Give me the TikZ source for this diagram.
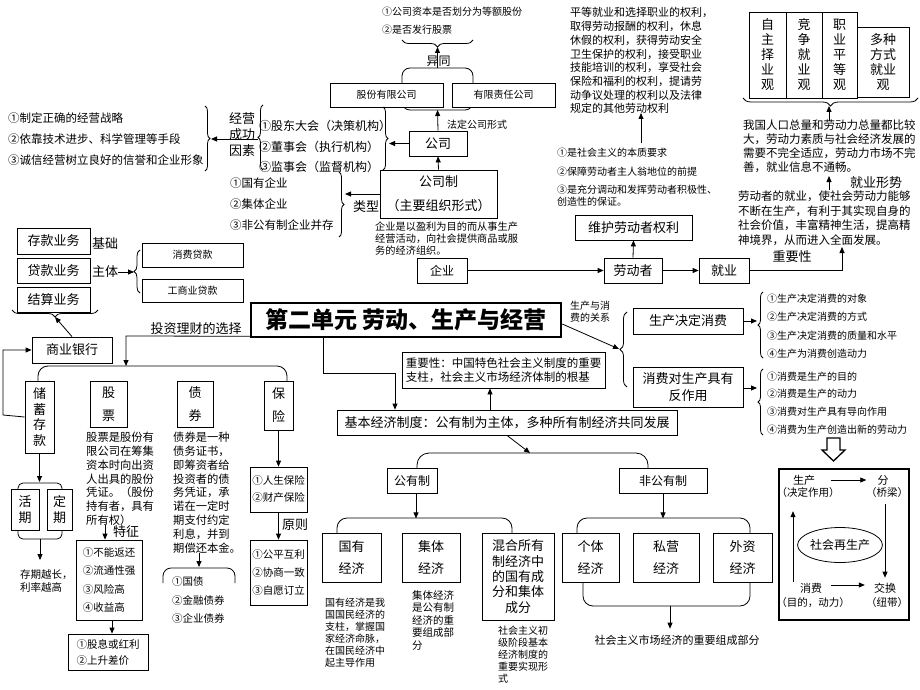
\documentclass[tikz,border=0pt]{standalone}
\usepackage{fontspec}
\setmainfont{Noto Sans CJK SC}
\usetikzlibrary{arrows.meta,decorations.pathreplacing,shapes.geometric}
\begin{document}
\begin{tikzpicture}[x=1pt,y=-1pt,
  fs/.style 2 args={font=\fontsize{#1}{#2}\selectfont},
  bx/.style={draw,line width=0.8pt,fill=white,inner sep=0pt,align=center},
  tx/.style={inner sep=0pt,align=left},
  arr/.style={-{Triangle[length=6pt,width=5pt]},line width=0.8pt},
  ln/.style={line width=0.8pt},
  brc/.style={decorate,decoration={brace,amplitude=#1},line width=0.8pt},
  brc/.default=5pt]
\fill[white] (0,0) rectangle (920,690);
\useasboundingbox (0,0) rectangle (920,690);

% ---------- top centre ----------
\node[tx,fs={10}{12},anchor=west] (c1) at (382,12) {①公司资本是否划分为等额股份};
\node[tx,fs={10}{12},anchor=west] (c2) at (382,30) {②是否发行股票};
\draw[brc=7pt] (473,40) -- (402,40);
\coordinate (ctip) at (437.5,47);
\draw[ln,rounded corners=8] (402,68) rectangle (473,110);
\coordinate (bktop) at (437.5,68);
\coordinate (bkbot) at (437.5,110);
\node[bx,fs={10}{12},minimum width=113,minimum height=24] (gfyx) at (386.5,95) {股份有限公司};
\node[bx,fs={10}{12},minimum width=103,minimum height=24] (yxzr) at (503.5,95) {有限责任公司};
\draw[arr] (bktop) -- (ctip);
\node[fs={12}{14},inner sep=0] (yt) at (438.5,61) {异同};
\node[bx,fs={13}{15},minimum width=58,minimum height=25] (gs) at (438,143.5) {公司};
\draw[arr] (gs.north) -- (bkbot);
\node[tx,fs={10}{12},anchor=west] (fdxs) at (447,125) {法定公司形式};
\node[bx,fs={13}{24},minimum width=117,minimum height=48] (gsz) at (438.5,194) {公司制\\（主要组织形式）};
\draw[arr] (gsz.north) -- (gs.south);
\draw[brc=5pt] (383,107) -- (383,170);
\coordinate (gdtip) at (389,143.5);
\draw[arr] (gs.west) -- (gdtip);

\node[tx,fs={12}{14},anchor=west] (gd1) at (259,126) {①股东大会（决策机构）};
\node[tx,fs={12}{14},anchor=west] (gd2) at (259,147) {②董事会（执行机构）};
\node[tx,fs={12}{14},anchor=west] (gd3) at (259,167) {③监事会（监督机构）};
\draw[brc=5pt] (263,170) -- (263,105);
\node[fs={13}{16},inner sep=0,align=center] (jycg) at (242,135) {经营\\成功\\因素};
\coordinate (jytip) at (258,139);
\coordinate (cgtip) at (211,139);
\draw[arr] (jytip) -- (cgtip);
\draw[brc=5pt] (205,106) -- (205,171);
\node[tx,fs={11.5}{14},anchor=west] (cg1) at (8,118) {①制定正确的经营战略};
\node[tx,fs={11.5}{14},anchor=west] (cg2) at (8,139) {②依靠技术进步、科学管理等手段};
\node[tx,fs={11.5}{14},anchor=west] (cg3) at (8,160) {③诚信经营树立良好的信誉和企业形象};

\node[tx,fs={11.5}{14},anchor=west] (lx1) at (230,183) {①国有企业};
\node[tx,fs={11.5}{14},anchor=west] (lx2) at (230,204) {②集体企业};
\node[tx,fs={11.5}{14},anchor=west] (lx3) at (230,225) {③非公有制企业并存};
\draw[brc=5pt] (339,172) -- (339,237);
\coordinate (lxtip) at (345,194);
\draw[arr] (gsz.west) -- (lxtip);
\node[fs={13}{15},inner sep=0] (lxl) at (366,207) {类型};

\node[tx,fs={10.2}{12},anchor=north west] (qyd) at (375,222) {企业是以盈利为目的而从事生产\\经营活动，向社会提供商品或服\\务的经济组织。};

% ---------- labour ----------
\node[bx,fs={12}{14},minimum width=50,minimum height=25] (qiye) at (442,270.5) {企业};
\node[bx,fs={13}{15},minimum width=58,minimum height=25] (ldz) at (633,270.5) {劳动者};
\node[bx,fs={13}{15},minimum width=117,minimum height=25] (whq) at (633.5,227.5) {维护劳动者权利};
\node[bx,fs={13}{15},minimum width=50,minimum height=25] (jy) at (724,270.5) {就业};
\draw[arr] (qiye.east) -- (ldz.west);
\draw[arr] (ldz.east) -- (jy.west);
\draw[arr] (ldz.north) -- (whq.south);
\coordinate (jytop) at (842,247);
\draw[arr] (jy.east) -- (jy.east -| jytop) -- (jytop);
\node[fs={13}{15},inner sep=0] (zyx1) at (792,257) {重要性};

\node[tx,fs={11.5}{14.5},anchor=north west] (ldjy) at (738,191) {劳动者的就业，使社会劳动力能够\\不断在生产，有利于其实现自身的\\社会价值，丰富精神生活，提高精\\神境界，从而进入全面发展。};
\node[fs={13}{15},inner sep=0] (jyxs) at (876,183) {就业形势};
\coordinate (a1s) at (829,190);
\coordinate (a1e) at (829,176);
\draw[arr] (a1s) -- (a1e);
\node[tx,fs={11.5}{14},anchor=north west] (wgrk) at (743,120) {我国人口总量和劳动力总量都比较\\大，劳动力素质与社会经济发展的\\需要不完全适应，劳动力市场不完\\善，就业信息不通畅。};
\coordinate (a2s) at (829,121);
\coordinate (a2e) at (829,106);
\draw[arr] (a2s) -- (a2e);
\draw[brc=8pt] (918,98) -- (743,98);
\node[bx,fs={13}{15},minimum width=37,minimum height=86] (g1) at (767.5,55) {自\\主\\择\\业\\观};
\node[bx,fs={13}{15},minimum width=36,minimum height=86] (g2) at (804,55) {竞\\争\\就\\业\\观};
\node[bx,fs={13}{15},minimum width=35,minimum height=86] (g3) at (839.5,55) {职\\业\\平\\等\\观};
\node[bx,fs={13}{15},minimum width=52,minimum height=70] (g4) at (883,62) {多种\\方式\\就业\\观};

\node[tx,fs={11}{13.7},anchor=north west] (ql) at (570,7.5) {平等就业和选择职业的权利，\\取得劳动报酬的权利，休息\\休假的权利，获得劳动安全\\卫生保护的权利，接受职业\\技能培训的权利，享受社会\\保险和福利的权利，提请劳\\动争议处理的权利以及法律\\规定的其他劳动权利};
\coordinate (a3s) at (641,143);
\coordinate (a3e) at (641,113);
\draw[arr] (a3s) -- (a3e);
\node[tx,fs={10}{12},anchor=west] (yy1) at (557,153) {①是社会主义的本质要求};
\node[tx,fs={10}{12},anchor=west] (yy2) at (557,172) {②保障劳动者主人翁地位的前提};
\node[tx,fs={10}{12},anchor=north west] (yy3) at (557,185) {③是充分调动和发挥劳动者积极性、\\创造性的保证。};

% ---------- bank ----------
\node[bx,fs={13}{15},minimum width=73,minimum height=26] (ck1) at (53.5,241) {存款业务};
\node[bx,fs={13}{15},minimum width=73,minimum height=25] (ck2) at (53.5,270.5) {贷款业务};
\node[bx,fs={13}{15},minimum width=73,minimum height=25] (ck3) at (53.5,299.5) {结算业务};
\node[fs={13}{15},inner sep=0] (jc) at (105,243) {基础};
\node[fs={13}{15},inner sep=0] (zt) at (105,272) {主体};
\draw[brc=7pt] (98,310) -- (12,310);
\coordinate (cktip) at (55,317);
\draw[brc=6pt] (140,293) -- (140,250);
\coordinate (dktip) at (134,272);
\draw[arr] (zt.east) -- (dktip);
\node[bx,fs={10}{12},minimum width=101,minimum height=24] (xfdk) at (192.5,255) {消费贷款};
\node[bx,fs={10}{12},minimum width=101,minimum height=23] (gsdk) at (192.5,290.5) {工商业贷款};
\node[bx,fs={13}{15},minimum width=80,minimum height=26] (syh) at (72,350) {商业银行};
\draw[arr] (syh.north) -- (cktip);

% ---------- title ----------
\node[draw,line width=2.5pt,fill=white,inner sep=0,minimum width=310,minimum height=34,fs={23}{26}] (title) at (406,320) {\bfseries 第二单元 劳动、生产与经营};

% ---------- investment ----------
\node[fs={13}{15},inner sep=0] (tzlc) at (196,329) {投资理财的选择};
\coordinate (tzc) at (126,336);
\coordinate (tzb) at (126,366);
\draw[arr] ([yshift=2pt]title.south west) -- (tzc) -- (tzb);
\draw[ln,rounded corners=10] (38,381) -- (38,366) -- (287,366) -- (287,381);
\node[bx,fs={13}{15.5},minimum width=29,minimum height=72] (cx) at (39.5,417) {储\\蓄\\存\\款};
\node[bx,fs={13}{23},minimum width=37,minimum height=46] (gp) at (108.5,404) {股\\票};
\node[bx,fs={13}{23},minimum width=36,minimum height=46] (zq) at (195,404) {债\\券};
\node[bx,fs={13}{23},minimum width=29,minimum height=49] (bxn) at (278.5,405.5) {保\\险};
\coordinate (lc1) at (3,415);
\draw[arr] (cx.west) -- (lc1) -- (lc1 |- syh.west) -- (syh.west);

\node[tx,fs={11.3}{13.8},anchor=north west] (gpd) at (86,432) {股票是股份有\\限公司在筹集\\资本时向出资\\人出具的股份\\凭证。（股份\\持有者，具有\\所有权）};
\node[bx,fs={10.5}{18.5},minimum width=66,minimum height=80,align=left] (tz) at (109,580) {①不能返还\\②流通性强\\③风险高\\④收益高};
\coordinate (tzs) at (105,525);
\draw[arr] (tzs) -- (tzs |- tz.north);
\node[fs={13}{15},inner sep=0] (tzl) at (126,532) {特征};
\node[bx,fs={10.5}{16},minimum width=80,minimum height=36,align=left] (gx) at (108,652) {①股息或红利\\②上升差价};
\draw[arr] ([xshift=3pt]tz.south) -- ([xshift=3pt]tz.south |- gx.north);

\node[tx,fs={11.3}{13.8},anchor=north west] (zqd) at (173,432) {债券是一种\\债务证书，\\即筹资者给\\投资者的债\\务凭证，承\\诺在一定时\\期支付约定\\利息，并到\\期偿还本金。};
\coordinate (zqs) at (199,553);
\coordinate (zqe) at (199,567);
\draw[arr] (zqs) -- (zqe);
\draw[ln,rounded corners=8] (163,583) -- (163,568) -- (235,568) -- (235,583);
\node[tx,fs={10.5}{12},anchor=west] (zq1) at (172,582) {①国债};
\node[tx,fs={10.5}{12},anchor=west] (zq2) at (172,600) {②金融债券};
\node[tx,fs={10.5}{12},anchor=west] (zq3) at (172,618) {③企业债券};

\node[bx,fs={10.5}{17},minimum width=57,minimum height=45,align=left] (bx1) at (278.5,489.5) {①人生保险\\②财产保险};
\node[bx,fs={10.5}{18},minimum width=57,minimum height=65,align=left] (bx2) at (278.5,572.5) {①公平互利\\②协商一致\\③自愿订立};
\draw[arr] (bxn.south) -- (bx1.north);
\draw[arr] (bx1.south) -- (bx2.north);
\node[fs={13}{15},inner sep=0] (yz) at (295,525) {原则};

\coordinate (cxe) at (39.5,482);
\draw[arr] (cx.south) -- (cxe);
\draw[ln,rounded corners=5] (18,490) -- (18,483) -- (62,483) -- (62,490);
\node[bx,fs={13}{16},minimum width=28,minimum height=41] (hq) at (25,509.5) {活\\期};
\node[bx,fs={13}{16},minimum width=25,minimum height=41] (dq) at (59.5,509.5) {定\\期};
\draw[ln,rounded corners=5] (18,530) -- (18,539) -- (62,539) -- (62,530);
\coordinate (cqs) at (40,539);
\coordinate (cqe) at (40,560);
\draw[arr] (cqs) -- (cqe);
\node[tx,fs={10.5}{12.5},anchor=north west] (cqt) at (20,569.5) {存期越长，\\利率越高};

% ---------- basic economic system ----------
\node[bx,fs={11.5}{14},minimum width=203,minimum height=36,align=left] (zyx) at (503.5,370) {重要性：中国特色社会主义制度的重要\\支柱，社会主义市场经济体制的根基};
\node[bx,fs={13}{15},minimum width=340,minimum height=25] (jb) at (507,422.5) {基本经济制度：公有制为主体，多种所有制经济共同发展};
\coordinate (jbc) at (323,373);
\draw[arr] ([xshift=-83pt]title.south) -- (jbc) -| ([xshift=-112pt]jb.north);
\draw[arr] ([xshift=-17pt]jb.north) -- ([xshift=-17pt]jb.north |- zyx.south);
\coordinate (jbe) at (530,453);
\draw[arr] (jb.south) -- (jbe);
\draw[ln,rounded corners=12] (417,468) -- (417,453) -- (648,453) -- (648,468);
\node[bx,fs={12}{14},minimum width=50,minimum height=25] (gyz) at (412,480.5) {公有制};
\node[bx,fs={12}{14},minimum width=88,minimum height=25] (fgy) at (663,480.5) {非公有制};
\draw[arr] ([xshift=4pt]gyz.south) -- ++(0,25);
\draw[ln,rounded corners=10] (337,533) -- (337,518) -- (512,518) -- (512,533);
\node[bx,fs={13}{22},minimum width=59,minimum height=49] (gy) at (351.5,557.5) {国有\\经济};
\node[bx,fs={13}{22},minimum width=58,minimum height=49] (jt) at (431,557.5) {集体\\经济};
\node[bx,fs={13}{15.3},minimum width=72,minimum height=87] (hh) at (518,576.5) {混合所有\\制经济中\\的国有成\\分和集体\\成分};
\node[tx,fs={10}{12},anchor=north west] (gyd) at (325,598) {国有经济是我\\国国民经济的\\支柱，掌握国\\家经济命脉，\\在国民经济中\\起主导作用};
\node[tx,fs={10.5}{12.5},anchor=north west] (jtd) at (412,590) {集体经济\\是公有制\\经济的重\\要组成部\\分};
\node[tx,fs={10}{12},anchor=north west] (hhd) at (498,626) {社会主义初\\级阶段基本\\经济制度的\\重要实现形\\式};
\draw[arr] (fgy.south) -- ++(0,25);
\draw[ln,rounded corners=10] (577,533) -- (577,518) -- (750,518) -- (750,533);
\node[bx,fs={13}{22},minimum width=57,minimum height=49] (gt) at (590.5,557.5) {个体\\经济};
\node[bx,fs={13}{22},minimum width=66,minimum height=49] (sy) at (666,557.5) {私营\\经济};
\node[bx,fs={13}{22},minimum width=59,minimum height=49] (wz) at (742.5,557.5) {外资\\经济};
\draw[ln,rounded corners=10] (583,582) -- (583,606) -- (750,606) -- (750,582);
\node[fs={11}{13},inner sep=0] (fgyd) at (677,640) {社会主义市场经济的重要组成部分};
\coordinate (fgs) at (670,606);
\draw[arr] (fgs) -- ([yshift=6pt]fgyd.north -| fgs);

% ---------- production and consumption ----------
\node[tx,fs={10}{12},anchor=north west] (scxf) at (570,301) {生产与消\\费的关系};
\coordinate (scbt) at (619,349);
\draw[arr] ([yshift=-4pt]title.east) -- (scbt);
\draw[brc=7pt] (627,387) -- (627,312);
\node[bx,fs={13}{15},minimum width=110,minimum height=26] (scjd) at (688,321) {生产决定消费};
\node[bx,fs={13}{17},minimum width=110,minimum height=40] (xfd) at (688,387) {消费对生产具有\\反作用};
\coordinate (b1t) at (757,321);
\coordinate (b2t) at (757,388);
\draw[arr] (scjd.east) -- (b1t);
\draw[arr] (xfd.east |- b2t) -- (b2t);
\draw[brc=5pt] (763,358) -- (763,292);
\draw[brc=5pt] (763,435) -- (763,369);
\node[tx,fs={10}{12},anchor=west] (s1) at (767,299) {①生产决定消费的对象};
\node[tx,fs={10}{12},anchor=west] (s2) at (767,317) {②生产决定消费的方式};
\node[tx,fs={10}{12},anchor=west] (s3) at (767,336) {③生产决定消费的质量和水平};
\node[tx,fs={10}{12},anchor=west] (s4) at (767,354) {④生产为消费创造动力};
\node[tx,fs={10}{12},anchor=west] (x1) at (767,377) {①消费是生产的目的};
\node[tx,fs={10}{12},anchor=west] (x2) at (767,394) {②消费是生产的动力};
\node[tx,fs={10}{12},anchor=west] (x3) at (767,412) {③消费对生产具有导向作用};
\node[tx,fs={10}{12},anchor=west] (x4) at (767,430) {④消费为生产创造出新的劳动力};

\draw[line width=1.3pt,fill=white] (827,438) -- (840,438) -- (840,450) -- (845,450) -- (833.5,461) -- (822,450) -- (827,450) -- cycle;

\node[draw,line width=2pt,inner sep=0,minimum width=130,minimum height=151] (zsc) at (843.5,544) {};
\node[fs={11}{13},inner sep=0] (sc) at (804,480) {生产};
\node[fs={10.5}{12},inner sep=0] (sc2) at (808,493) {（决定作用）};
\node[fs={11}{13},inner sep=0] (fen) at (883,480) {分};
\node[fs={10.5}{12},inner sep=0] (fen2) at (887,493) {（桥梁）};
\node[fs={11}{13},inner sep=0] (xf) at (811,588) {消费};
\node[fs={10.5}{12},inner sep=0] (xf2) at (813,603) {（目的，动力）};
\node[fs={11}{13},inner sep=0] (jh) at (885,588) {交换};
\node[fs={10.5}{12},inner sep=0] (jh2) at (887,603) {（纽带）};
\node[draw,ellipse,line width=0.8pt,inner sep=0,minimum width=80,minimum height=35,fs={12}{14}] (zs) at (840,545) {社会再生产};
\draw[arr,shorten <=16pt,shorten >=11pt] (sc.east) -- (fen.west);
\draw[arr,shorten <=6pt,shorten >=5pt] ([xshift=-2pt]fen2.south) -- ([xshift=-2pt]fen2.south |- jh.north);
\draw[arr,shorten <=9pt,shorten >=9pt] ([yshift=3pt]xf.east) -- ([yshift=3pt]jh.west);
\draw[arr,shorten <=1pt,shorten >=13pt] ([xshift=-18pt]xf.north) -- ([xshift=-18pt]xf.north |- sc2.south);
\end{tikzpicture}
\end{document}
